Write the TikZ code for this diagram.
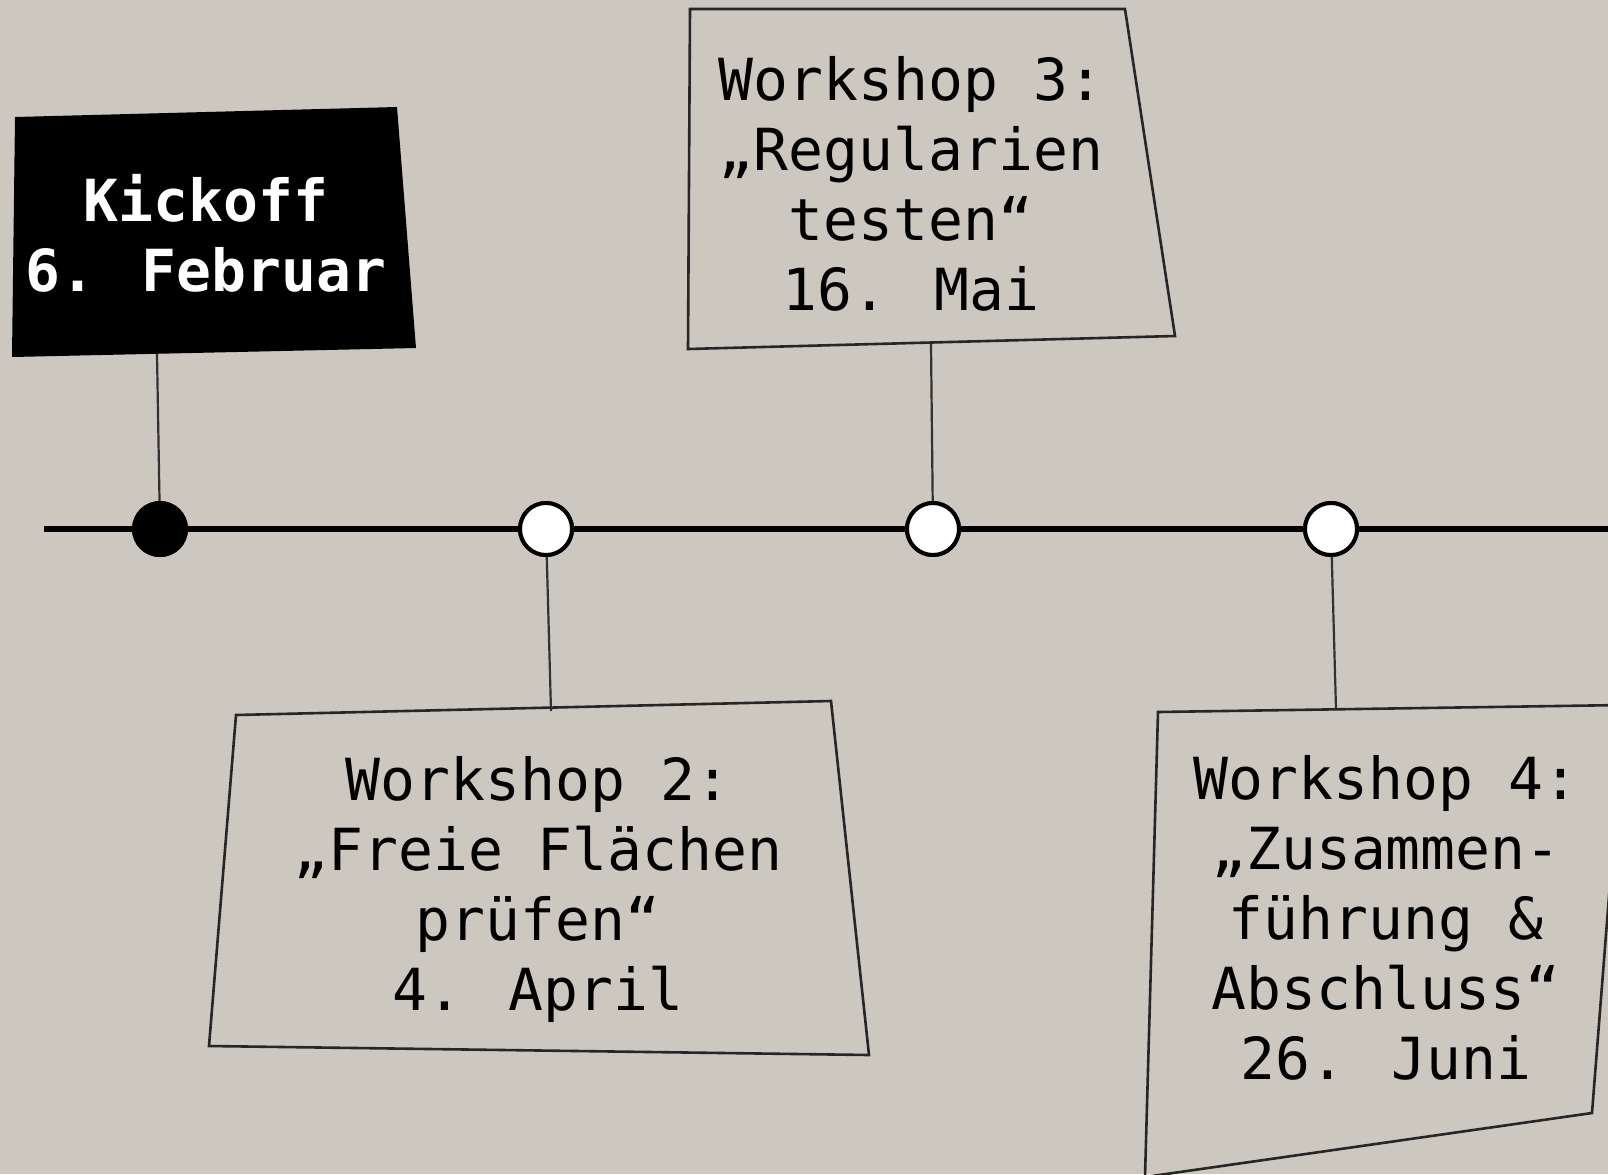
\documentclass[tikz,border=0pt]{standalone}
\usepackage{fontspec}
\newfontfamily\dvmono{DejaVu Sans Mono}
\definecolor{bg}{RGB}{204,200,192}
\definecolor{edge}{RGB}{38,38,38}
\definecolor{conn}{RGB}{50,50,50}
\begin{document}
\begin{tikzpicture}[x=0.5pt,y=-0.5pt,
  lbl/.style={font=\dvmono\fontsize{29}{35}\selectfont, align=center, inner sep=0pt, anchor=base},
  boxline/.style={draw=edge, line width=1.3pt, line join=miter},
  connector/.style={draw=conn, line width=1.1pt},
  timeline/.style={draw=black, line width=2.7pt},
  openms/.style={circle, draw=black, fill=white, line width=2pt, minimum size=26pt, inner sep=0pt},
  donems/.style={circle, draw=black, fill=black, line width=2pt, minimum size=26pt, inner sep=0pt}]
\fill[bg] (0,0) rectangle (1608,1174);
\useasboundingbox (0,0) rectangle (1608,1174);

% box corners
\coordinate (k1) at (15,117);   \coordinate (k2) at (397,107);
\coordinate (k3) at (416,348);  \coordinate (k4) at (12,357);
\coordinate (b31) at (690,9);   \coordinate (b32) at (1125,9);
\coordinate (b33) at (1175,336);\coordinate (b34) at (688,349);
\coordinate (b21) at (236,715); \coordinate (b22) at (831,701);
\coordinate (b23) at (869,1055);\coordinate (b24) at (209,1046);
\coordinate (b41) at (1158,712);\coordinate (b42) at (1624,705);
\coordinate (b43) at (1592,1113);\coordinate (b44) at (1145,1177);

% connector anchors on the boxes
\coordinate (kc) at (157,354);
\coordinate (c3) at (931,344);
\coordinate (c2) at (551,711);
\coordinate (c4) at (1336,709);
\coordinate (tl0) at (44,529);
\coordinate (tl1) at (1620,529);

% milestones
\node[donems] (m1) at (160,529) {};
\node[openms] (m2) at (546,529) {};
\node[openms] (m3) at (933,529) {};
\node[openms] (m4) at (1331,529) {};

% connectors
\draw[connector] (kc) -- (m1.center);
\draw[connector] (c3) -- (m3.center);
\draw[connector] (m2.center) -- (c2);
\draw[connector] (m4.center) -- (c4);

% timeline
\draw[timeline] (tl0) -- (tl1);
\node[donems] at (m1) {};
\node[openms] at (m2) {};
\node[openms] at (m3) {};
\node[openms] at (m4) {};

% boxes
\fill[black] (k1) -- (k2) -- (k3) -- (k4) -- cycle;
\draw[boxline] (b31) -- (b32) -- (b33) -- (b34) -- cycle;
\draw[boxline] (b21) -- (b22) -- (b23) -- (b24) -- cycle;
\draw[boxline] (b41) -- (b42) -- (b43) -- (b44) -- cycle;

% texts (base anchor = baseline of the last line)
\node[lbl, text=white, font=\dvmono\bfseries\fontsize{29}{35}\selectfont] (t1) at (206,291) {Kickoff\\6. Februar};
\node[lbl] (t3) at (911,310) {Workshop 3:\\„Regularien\\testen“\\16. Mai};
\node[lbl] (t2) at (538,1010) {Workshop 2:\\„Freie Flächen\\prüfen“\\4. April};
\node[lbl] (t4) at (1386,1079) {Workshop 4:\\„Zusammen-\\führung \&\\Abschluss“\\26. Juni};
\end{tikzpicture}
\end{document}
